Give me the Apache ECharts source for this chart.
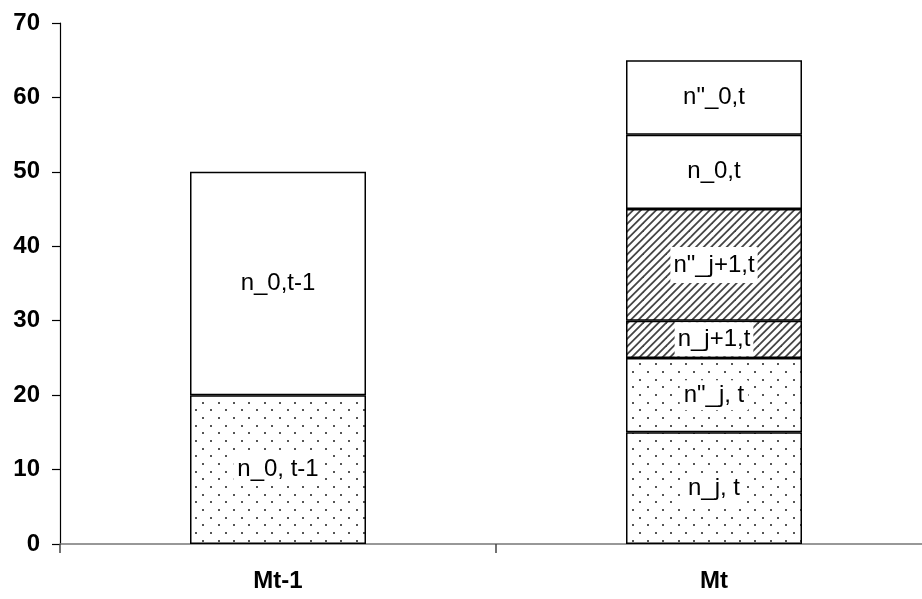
<!DOCTYPE html>
<html>
<head>
<meta charset="utf-8">
<script src="https://cdn.jsdelivr.net/npm/echarts@6/dist/echarts.min.js"></script>
<style>
html,body{margin:0;padding:0;background:#fff;overflow:hidden;width:922px;height:599px;}
#chart{width:934px;height:599px;}
</style>
</head>
<body>
<div id="chart"></div>
<script>
// ---- data ----
const categories = ['Mt-1', 'Mt'];
const yTicks = [0, 10, 20, 30, 40, 50, 60, 70];
const seg1 = [20, 15];
const seg2 = [30, 10];
const seg3 = [null, 5];
const seg4 = [null, 15];
const seg5 = [null, 10];
const seg6 = [null, 10];
const labels1 = ['n_0, t-1', 'n_j, t'];
const labels2 = ['n_0,t-1', 'n"_j, t'];
const labels3 = ['', 'n_j+1,t'];
const labels4 = ['', 'n"_j+1,t'];
const labels5 = ['', 'n_0,t'];
const labels6 = ['', 'n"_0,t'];

// ---- styles ----
function dotPattern() {
  const p = 46 / 3; // 15.33 px period
  const c = document.createElement('canvas');
  c.width = 46; c.height = 46;
  const g = c.getContext('2d');
  g.fillStyle = '#fff'; g.fillRect(0, 0, 46, 46);
  g.fillStyle = '#555';
  for (let i = 0; i < 3; i++) {
    for (let j = 0; j < 3; j++) {
      const x = i * p, y = j * p;
      g.fillRect(Math.round(x + 3), Math.round(y + 3), 2, 2);
      g.fillRect(Math.round(x + 3 + p / 2), Math.round(y + 3 + p / 2), 2, 2);
    }
  }
  return c;
}
function hatchPattern() {
  const size = 23; const p = 23 / 3;
  const c = document.createElement('canvas');
  c.width = size; c.height = size;
  const g = c.getContext('2d');
  g.fillStyle = '#fff'; g.fillRect(0, 0, size, size);
  g.strokeStyle = '#444'; g.lineWidth = 1.8;
  for (let k = -3; k <= 6; k++) {
    const off = k * p;
    g.beginPath();
    g.moveTo(off - size, size + size);
    g.lineTo(off + size + size, -size);
    g.stroke();
  }
  return c;
}
const dots = { image: dotPattern(), repeat: 'repeat' };
const hatch = { image: hatchPattern(), repeat: 'repeat' };
const white = '#ffffff';

const FONT = "'Liberation Sans', Arial, sans-serif";

function mkSeries(vals, labels, fills, pad) {
  return {
    type: 'bar',
    stack: 'total',
    barWidth: 176,
    data: vals.map((v, i) => ({
      value: v == null ? '-' : v,
      itemStyle: { color: fills[i] }
    })),
    itemStyle: { borderColor: '#000', borderWidth: 1.5 },
    label: {
      show: true,
      position: 'inside',
      formatter: (p) => labels[p.dataIndex],
      color: '#000',
      fontFamily: FONT,
      fontSize: 24,
      backgroundColor: '#fff',
      padding: pad || [3, 4]
    },
    emphasis: { disabled: true },
    animation: false
  };
}

const chart = echarts.init(document.getElementById('chart'), null, { renderer: 'canvas', width: 934, height: 599 });
chart.setOption({
  animation: false,
  backgroundColor: '#fff',
  grid: { left: 60, top: 23, right: 2, bottom: 55, containLabel: false },
  xAxis: {
    type: 'category',
    data: categories,
    boundaryGap: true,
    axisLine: { show: true, lineStyle: { color: '#777', width: 1.5 } },
    axisTick: { show: true, length: 9, lineStyle: { color: '#444', width: 1.5 } },
    axisLabel: { color: '#000', fontFamily: FONT, fontSize: 24, fontWeight: 'bold', margin: 25 }
  },
  yAxis: {
    type: 'value',
    min: yTicks[0],
    max: yTicks[yTicks.length - 1],
    interval: 10,
    axisLine: { show: true, lineStyle: { color: '#000', width: 1.2 } },
    axisTick: { show: true, length: 8, lineStyle: { color: '#000', width: 1.2 } },
    splitLine: { show: false },
    axisLabel: { color: '#000', fontFamily: FONT, fontSize: 24, fontWeight: 'bold', margin: 20 }
  },
  series: [
    mkSeries(seg1, labels1, [dots, dots]),
    mkSeries(seg2, labels2, [white, dots]),
    mkSeries(seg3, labels3, [hatch, hatch], [5, 3]),
    mkSeries(seg4, labels4, [hatch, hatch], [6, 3]),
    mkSeries(seg5, labels5, [white, white]),
    mkSeries(seg6, labels6, [white, white])
  ]
});
</script>
</body>
</html>
